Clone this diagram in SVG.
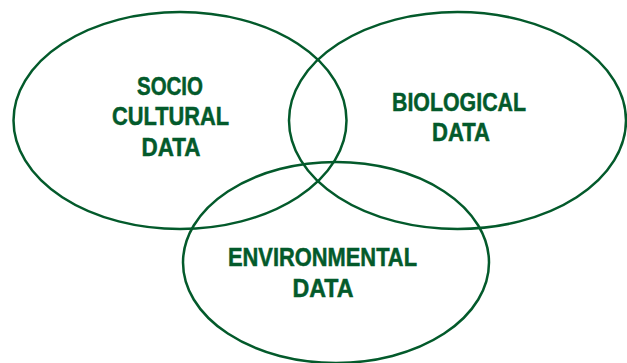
<svg xmlns="http://www.w3.org/2000/svg" width="627" height="363" viewBox="0 0 627 363">
<style>
.c{fill:none;stroke:#035a2b;stroke-width:2.5}
.t{font-family:"Liberation Sans",Arial,sans-serif;font-weight:bold;font-size:25.5px;fill:#035a2b;stroke:#035a2b;stroke-width:0.5;text-anchor:middle}
</style>
<rect width="627" height="363" fill="#fff"/>
<g id="socio">
<ellipse class="c" cx="180" cy="120.5" rx="166.5" ry="108.5"/>
<text class="t" x="170" y="95" textLength="66" lengthAdjust="spacingAndGlyphs">SOCIO</text>
<text class="t" x="170.5" y="125" textLength="117" lengthAdjust="spacingAndGlyphs">CULTURAL</text>
<text class="t" x="171" y="155.5" textLength="59" lengthAdjust="spacingAndGlyphs">DATA</text>
</g>
<g id="biological">
<ellipse class="c" cx="457.5" cy="120.5" rx="168.5" ry="108.5"/>
<text class="t" x="459" y="110.5" textLength="134" lengthAdjust="spacingAndGlyphs">BIOLOGICAL</text>
<text class="t" x="461" y="140.5" textLength="58" lengthAdjust="spacingAndGlyphs">DATA</text>
</g>
<g id="environmental">
<ellipse class="c" cx="336" cy="262.5" rx="153" ry="100.5"/>
<text class="t" x="322.5" y="266" textLength="189" lengthAdjust="spacingAndGlyphs">ENVIRONMENTAL</text>
<text class="t" x="323" y="296.5" textLength="61" lengthAdjust="spacingAndGlyphs">DATA</text>
</g>
<g id="connectors"/>
</svg>
